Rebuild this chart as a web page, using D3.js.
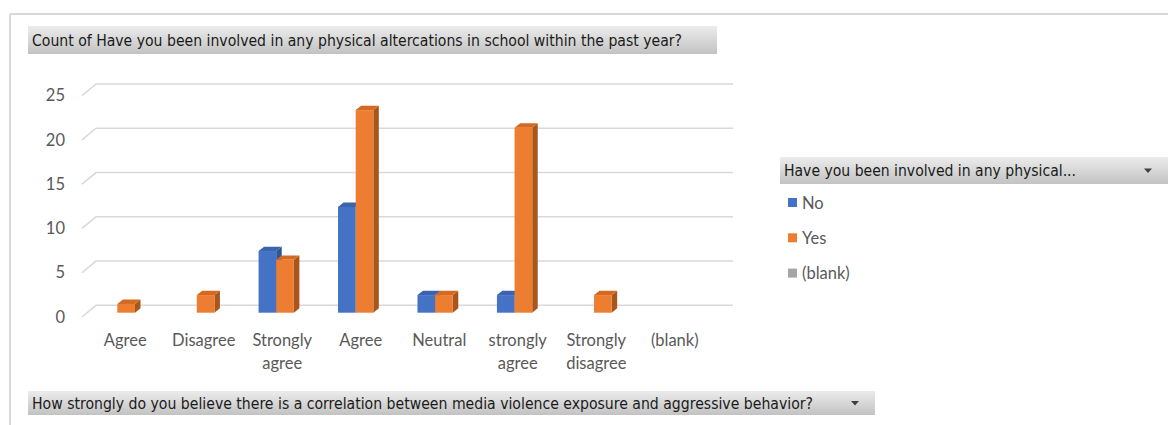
<!DOCTYPE html>
<html>
<head>
<meta charset="utf-8">
<script src="https://cdn.jsdelivr.net/npm/d3@7"></script>
<style>
  html, body { margin: 0; padding: 0; background: #ffffff; }
  svg { display: block; }
</style>
</head>
<body>
<svg id="chart" width="1168" height="425"></svg>
<script>
// Pivot chart data: responses grouped by belief in media-violence correlation
const categories = ["Agree", "Disagree", "Strongly agree", "Agree", "Neutral", "strongly agree", "Strongly disagree", "(blank)"];
const seriesNames = ["No", "Yes"];
const valuesNo  = [0, 0, 7, 12, 2, 2, 0, 0];
const valuesYes = [1, 2, 6, 23, 2, 21, 2, 0];
const yTicks = [0, 5, 10, 15, 20, 25];
const legendItems = ["No", "Yes", "(blank)"];

const chartTitle = "Count of Have you been involved in any physical altercations in school within the past year?";
const axisTitle = "How strongly do you believe there is a correlation between media violence exposure and aggressive behavior?";
const legendTitle = "Have you been involved in any physical...";

const colors = {
  "No":      { front: "#4472C4", top: "#3B64AE", side: "#2E5596" },
  "Yes":     { front: "#ED7D31", top: "#D46A22", side: "#A9561D" },
  "(blank)": { front: "#A5A5A5" }
};

const svg = d3.select("#chart");
const textGray = "#595959";
const bodyFont = "Lato, 'Open Sans', sans-serif";
const bodySize = 16.5;
const boxFont = "'DejaVu Sans Condensed', 'DejaVu Sans', sans-serif";

// Gradient for the pivot field buttons
const defs = svg.append("defs");
const grad = defs.append("linearGradient").attr("id", "btnGrad")
  .attr("x1", 0).attr("y1", 0).attr("x2", 0).attr("y2", 1);
grad.append("stop").attr("offset", "0%").attr("stop-color", "#ececec");
grad.append("stop").attr("offset", "100%").attr("stop-color", "#c2c2c2");

// Outer chart frame (top and left edges visible)
svg.append("line").attr("x1", 10).attr("y1", 14).attr("x2", 1168).attr("y2", 14)
  .attr("stroke", "#d9d9d9").attr("stroke-width", 2);
svg.append("line").attr("x1", 10).attr("y1", 14).attr("x2", 10).attr("y2", 425)
  .attr("stroke", "#d9d9d9").attr("stroke-width", 2);

// Field button helper
function fieldButton(x, y, w, h, label, textW, arrow) {
  const g = svg.append("g");
  g.append("rect").attr("x", x).attr("y", y).attr("width", w).attr("height", h)
    .attr("fill", "url(#btnGrad)");
  g.append("text").attr("x", x + 4).attr("y", y + h / 2 + 5.5)
    .attr("font-family", boxFont).attr("font-size", 16).attr("fill", "#1a1a1a")
    .attr("textLength", textW).attr("lengthAdjust", "spacingAndGlyphs")
    .text(label);
  if (arrow) {
    const ax = x + w - 20, ay = y + h / 2 - 2;
    g.append("path").attr("d", `M${ax - 4},${ay} L${ax + 4},${ay} L${ax},${ay + 4.5} Z`)
      .attr("fill", "#404040");
  }
}

fieldButton(28, 26, 689, 28, chartTitle, 650, false);
fieldButton(28, 391, 847, 24, axisTitle, 781, true);
fieldButton(780, 157, 388, 27, legendTitle, 292, true);

// Scales
const yBack = d3.scaleLinear().domain([0, 25]).range([305.3, 84]);
const yFront = d3.scaleLinear().domain([0, 25]).range([312.7, 92.5]);
const xBar = d3.scaleBand().domain(d3.range(categories.length)).range([77.6, 713.2]);
const xSeries = d3.scaleBand().domain(seriesNames).range([-17.65, 17.65]);
const xLabel = d3.scaleBand().domain(d3.range(categories.length)).range([86, 714]);

const depthX = 5.5, depthY = -4.4;

// Gridlines on back wall with side-wall diagonal
const grid = svg.append("g");
yTicks.forEach(v => {
  const yb = yBack(v);
  grid.append("path")
    .attr("d", `M82,${yb + 11.7} L96,${yb} L733,${yb}`)
    .attr("fill", "none").attr("stroke", "#d9d9d9").attr("stroke-width", 1.6);
  grid.append("text").attr("x", 65).attr("y", yb + 11.4 + 6)
    .attr("text-anchor", "end").attr("font-family", bodyFont).attr("font-size", bodySize)
    .attr("fill", textGray).text(v);
});

// 3D columns: front face, top face, right side face
const seriesData = [
  { name: "No", values: valuesNo },
  { name: "Yes", values: valuesYes }
];
const bars = svg.append("g");
categories.forEach((c, i) => {
  seriesData.forEach(s => {
    const v = s.values[i];
    if (!v) return;
    const x0 = xBar(i) + xBar.bandwidth() / 2 + xSeries(s.name);
    const x1 = x0 + xSeries.bandwidth();
    const yt = yFront(v), yb = yFront(0);
    const col = colors[s.name];
    const g = bars.append("g");
    g.append("path")
      .attr("d", `M${x1},${yt} L${x1 + depthX},${yt + depthY} L${x1 + depthX},${yb + depthY} L${x1},${yb} Z`)
      .attr("fill", col.side);
    g.append("path")
      .attr("d", `M${x0},${yt} L${x0 + depthX},${yt + depthY} L${x1 + depthX},${yt + depthY} L${x1},${yt} Z`)
      .attr("fill", col.top);
    g.append("rect").attr("x", x0).attr("y", yt)
      .attr("width", x1 - x0).attr("height", yb - yt).attr("fill", col.front);
  });
});

// Category labels, wrapped at the first space
const labels = svg.append("g");
categories.forEach((c, i) => {
  const cx = xLabel(i) + xLabel.bandwidth() / 2;
  const sp = c.indexOf(" ");
  const lines = sp > 0 ? [c.slice(0, sp), c.slice(sp + 1)] : [c];
  const t = labels.append("text").attr("text-anchor", "middle")
    .attr("font-family", bodyFont).attr("font-size", bodySize).attr("fill", textGray);
  lines.forEach((ln, k) => {
    t.append("tspan").attr("x", cx).attr("y", 346 + k * 22.5).text(ln);
  });
});

// Legend
const legend = svg.append("g");
legendItems.forEach((name, k) => {
  const cy = 202.5 + k * 35.3;
  legend.append("rect").attr("x", 788).attr("y", cy - 4.5).attr("width", 9).attr("height", 9)
    .attr("fill", colors[name].front);
  legend.append("text").attr("x", 802).attr("y", cy + 6)
    .attr("font-family", bodyFont).attr("font-size", bodySize).attr("fill", textGray).text(name);
});
</script>
</body>
</html>
